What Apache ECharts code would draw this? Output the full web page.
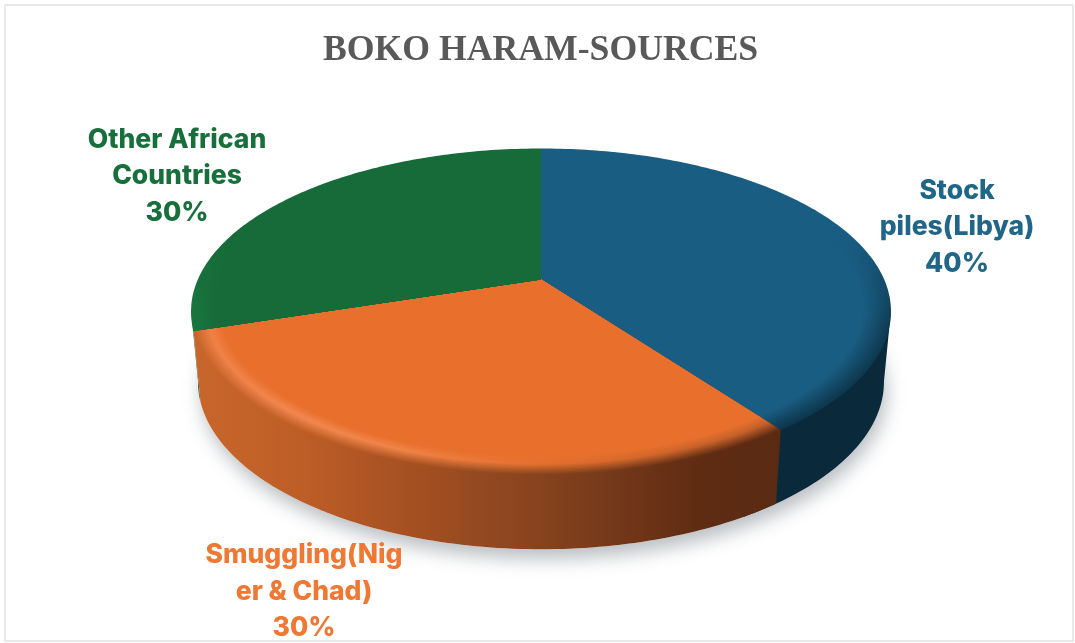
<!DOCTYPE html>
<html>
<head>
<meta charset="utf-8">
<style>html,body{margin:0;padding:0;background:#fff}#chart{width:1075px;height:643px}</style>
<script src="https://cdn.jsdelivr.net/npm/echarts@6/dist/echarts.min.js"></script>
</head>
<body>
<div id="chart"></div>
<script>
// Source shares, in percent
const categories = ['Stock\npiles(Libya)', 'Smuggling(Nig\ner & Chad)', 'Other African\nCountries'];
const shares = [40, 30, 30];
const chartTitle = 'BOKO HARAM-SOURCES';

// Perspective model of the tilted disc and of its lower rim
const disc = { cx: 541, cy: 279.5, R: 343.2, b: 156.7, k: 0.196 };
const base = { cy: 349, b: 161, scale: 0.98 };

const labelLayout = [
  { x: 957, y: 172.5 },
  { x: 304, y: 537 },
  { x: 177, y: 121.5 }
];

// Per-slice look: top colour, label colour, the wall's angular span (the blue
// wall runs on a little under the orange one), and the gradient axis and stops
// used for the wall and the rim bevel
const looks = [
  {
    top: '#1a5d82', text: '#1f6688', wall: [101, 150], axis: 'y',
    pos: [235, 330, 520],
    wallColors: ['#0c3045', '#0a2a3c', '#0a2a3c'],
    rim: ['#1a5d82', '#0e3a52', '#0c3248'],
    glow: ['#1a5d82', '#154e6e', '#134862']
  },
  {
    top: '#e8702c', text: '#ee7834', wall: [144, 252], axis: 'x',
    pos: [190, 300, 400, 540, 700, 780],
    wallColors: ['#ca662b', '#bd5e27', '#a85122', '#86431e', '#5f2c13', '#5a2a12'],
    rim: ['#c9652a', '#c26027', '#b05624', '#8c471f', '#642f14', '#5f2c13'],
    glow: ['#ef8044', '#f28850', '#f08448', '#e5702d', '#c9622a', '#c2602a']
  },
  {
    top: '#166b39', text: '#17703c', wall: [252, 259], axis: 'y',
    pos: [240, 310, 345],
    wallColors: ['#125a30', '#125a30', '#125a30'],
    rim: ['#166b39', '#19763f', '#19763f'],
    glow: ['#166b39', '#177039', '#177039']
  }
];

const RIM_LAYERS = 14;
const RIM_WIDTH = 0.075;
// The wall tucks slightly under the top face so no pale seam shows along the rim
const WALL_TUCK = 0.98;

const total = shares.reduce((a, b) => a + b, 0);
const toDeg = v => echarts.number.linearMap(v, [0, total], [0, 360]);

function projected(deg, r) {
  const t = deg * Math.PI / 180;
  const u = r * Math.sin(t), v = -r * Math.cos(t), w = 1 - disc.k * v;
  return [disc.cx + disc.R * u / w, disc.cy + disc.b * v / w];
}
function lowerRim(deg) {
  const t = deg * Math.PI / 180;
  const u = Math.sin(t), v = -Math.cos(t), w = 1 - disc.k * v;
  return [disc.cx + disc.R * base.scale * u / w, base.cy + base.b * v / w];
}
function arc(from, to, fn) {
  const pts = [], n = Math.max(2, Math.ceil(Math.abs(to - from)));
  for (let i = 0; i <= n; i++) pts.push(fn(from + (to - from) * i / n));
  return pts;
}
function gradient(look, colors) {
  const [a, z] = [look.pos[0], look.pos[look.pos.length - 1]];
  return {
    type: 'linear', global: true,
    x: look.axis === 'x' ? a : 0, y: look.axis === 'y' ? a : 0,
    x2: look.axis === 'x' ? z : 0, y2: look.axis === 'y' ? z : 0,
    colorStops: look.pos.map((p, i) => ({ offset: (p - a) / (z - a), color: colors[i] }))
  };
}

function renderSlice(params, api) {
  const i = params.dataIndex;
  const look = looks[i];
  const before = shares.slice(0, i).reduce((a, b) => a + b, 0);
  const start = toDeg(before);
  const end = toDeg(before + api.value(0));
  const kids = [];

  if (i === 0) {
    // Soft drop shadow under the whole pie
    kids.push({
      type: 'polygon', z2: -3,
      shape: { points: arc(0, 360, lowerRim) },
      style: { fill: '#fff', shadowBlur: 18, shadowColor: 'rgba(60,70,80,0.34)', shadowOffsetX: 3, shadowOffsetY: 10 }
    });
  }

  // Side wall between the upper and lower rims; its ends stay on the true rim
  const [wallA, wallB] = look.wall;
  const wallPoints = [projected(wallA, 1)]
    .concat(arc(wallA, wallB, d => projected(d, WALL_TUCK)))
    .concat([projected(wallB, 1)])
    .concat(arc(wallB, wallA, lowerRim));
  kids.push({
    type: 'polygon', z2: i === 1 ? -1 : -2,
    shape: { points: wallPoints },
    style: { fill: gradient(look, look.wallColors) }
  });

  // Bevel: nested sectors running from the wall shade in to the flat top colour
  const sector = r => [[disc.cx, disc.cy]].concat(arc(start, end, d => projected(d, r)));
  for (let n = 0; n < RIM_LAYERS; n++) {
    const t = n / (RIM_LAYERS - 1);
    const colors = look.pos.map((_, s) => t < 0.55
      ? echarts.color.lerp(t / 0.55, [look.rim[s], look.glow[s]])
      : echarts.color.lerp((t - 0.55) / 0.45, [look.glow[s], look.top]));
    kids.push({
      type: 'polygon',
      shape: { points: sector(1 - RIM_WIDTH * t) },
      style: { fill: gradient(look, colors) }
    });
  }

  // Slice label
  kids.push({
    type: 'text', z2: 5,
    x: labelLayout[i].x, y: labelLayout[i].y,
    style: {
      text: categories[i] + '\n' + api.value(0) + '%',
      fill: look.text, font: '800 26.5px Inter', lineHeight: 36.5,
      align: 'center', verticalAlign: 'top'
    },
    silent: true
  });
  return { type: 'group', children: kids };
}

const chart = echarts.init(document.getElementById('chart'), null, { renderer: 'canvas' });
chart.setOption({
  animation: false,
  backgroundColor: '#ffffff',
  title: {
    text: chartTitle, left: 535.5, top: 28, textAlign: 'center',
    textStyle: { fontFamily: 'Liberation Serif', fontWeight: 'bold', fontSize: 35.7, color: '#595959' }
  },
  graphic: [{
    type: 'rect', silent: true, z: -10,
    shape: { x: 5, y: 5, width: 1068, height: 636 },
    style: { fill: '#fff', stroke: '#e2e2e2', lineWidth: 1.5 }
  }],
  series: [{
    type: 'custom',
    coordinateSystem: 'none',
    renderItem: renderSlice,
    data: shares.map((v, i) => ({ value: [v], name: categories[i] }))
  }]
});
</script>
</body>
</html>
